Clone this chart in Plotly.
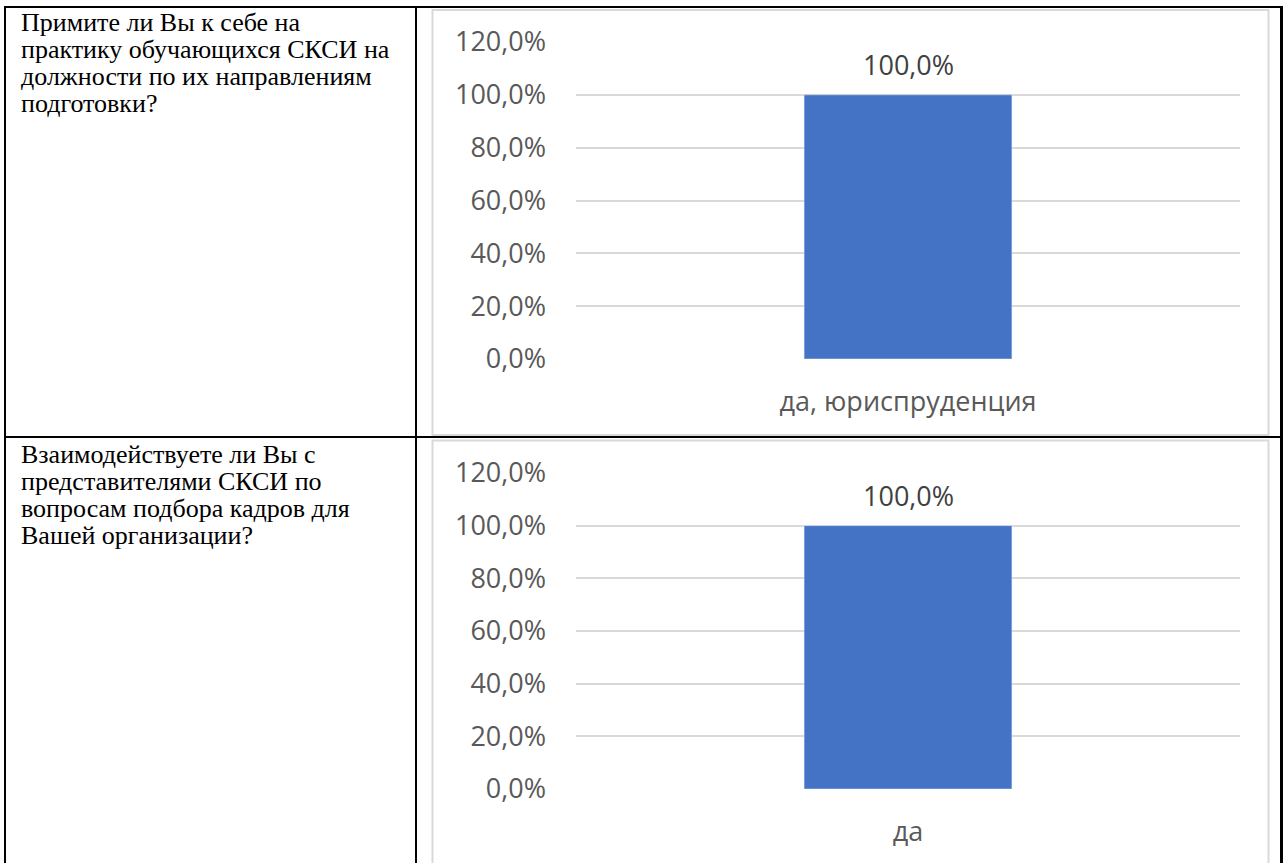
import plotly.graph_objects as go

# ---------------- data ----------------
questions_1 = ["Примите ли Вы к себе на",
               "практику обучающихся СКСИ на",
               "должности по их направлениям",
               "подготовки?"]
questions_2 = ["Взаимодействуете ли Вы с",
               "представителями СКСИ по",
               "вопросам подбора кадров для",
               "Вашей организации?"]
categories_1 = ["да, юриспруденция"]
values_1 = [100.0]
categories_2 = ["да"]
values_2 = [100.0]
tick_vals = [0, 20, 40, 60, 80, 100, 120]
tick_labels = ["0,0%", "20,0%", "40,0%", "60,0%", "80,0%", "100,0%", "120,0%"]

# ---------------- layout helpers ----------------
W, H = 1285, 863
def fx(x):
    return x / W
def fy(y):
    return 1 - y / H

BAR_COLOR = "#4472C4"
GRID = "#d9d9d9"
TICK_COLOR = "#595959"
LABEL_COLOR = "#404040"
SANS = "Open Sans"
SERIF = "Liberation Serif"

fig = go.Figure()
fig.add_trace(go.Bar(x=categories_1, y=values_1, marker_color=BAR_COLOR,
                     width=0.313, xaxis="x", yaxis="y", hoverinfo="skip"))
fig.add_trace(go.Bar(x=categories_2, y=values_2, marker_color=BAR_COLOR,
                     width=0.313, xaxis="x2", yaxis="y2", hoverinfo="skip"))

axis_x_common = dict(type="category", showgrid=False, showline=False, zeroline=False,
                     ticks="", tickfont=dict(family=SANS, size=27, color=TICK_COLOR),
                     ticklabelstandoff=24, fixedrange=True, automargin=False)
axis_y_common = dict(range=[0, 120], tickvals=tick_vals, ticktext=tick_labels,
                     showgrid=True, gridcolor=GRID, gridwidth=2, showline=False,
                     zeroline=False, ticks="",
                     tickfont=dict(family=SANS, size=27, color=TICK_COLOR),
                     ticklabelstandoff=29, fixedrange=True, automargin=False)

fig.update_layout(
    width=W, height=H,
    autosize=False,
    margin=dict(l=0, r=0, t=0, b=0, pad=0),
    paper_bgcolor="white", plot_bgcolor="white",
    showlegend=False,
    separators=", ",
    xaxis=dict(domain=[fx(576), fx(1240)], anchor="y", **axis_x_common),
    yaxis=dict(domain=[fy(359), fy(42)], anchor="x", **axis_y_common),
    xaxis2=dict(domain=[fx(576), fx(1240)], anchor="y2", **axis_x_common),
    yaxis2=dict(domain=[fy(789), fy(473)], anchor="x2", **axis_y_common),
)

annotations = []
# data labels
for cats, vals, xr, yr in [(categories_1, values_1, "x", "y"), (categories_2, values_2, "x2", "y2")]:
    for c, v in zip(cats, vals):
        annotations.append(dict(x=c, y=v, xref=xr, yref=yr, text=f"{v:.1f}%".replace(".", ","),
                                showarrow=False, yanchor="middle", yshift=30,
                                font=dict(family=SANS, size=27, color=LABEL_COLOR)))
# question texts
for lines, y0 in [(questions_1, 22), (questions_2, 454)]:
    for i, t in enumerate(lines):
        annotations.append(dict(x=fx(19), y=fy(y0 + 27 * i), xref="paper", yref="paper",
                                text=t, showarrow=False, xanchor="left", yanchor="middle",
                                font=dict(family=SERIF, size=26, color="black")))
fig.update_layout(annotations=annotations)

shapes = []
# chart panel borders
shapes.append(dict(type="rect", xref="paper", yref="paper",
                   x0=fx(432.5), x1=fx(1268.5), y0=fy(435), y1=fy(10),
                   line=dict(color=GRID, width=2)))
shapes.append(dict(type="rect", xref="paper", yref="paper",
                   x0=fx(432.5), x1=fx(1268.5), y0=fy(875), y1=fy(440.5),
                   line=dict(color=GRID, width=2)))
# table borders
black = dict(color="black", width=2)
shapes += [
    dict(type="line", xref="paper", yref="paper", x0=fx(4), x1=fx(1283), y0=fy(7), y1=fy(7), line=black),
    dict(type="line", xref="paper", yref="paper", x0=fx(5), x1=fx(5), y0=fy(6), y1=fy(870), line=black),
    dict(type="line", xref="paper", yref="paper", x0=fx(416), x1=fx(416), y0=fy(6), y1=fy(870), line=black),
    dict(type="line", xref="paper", yref="paper", x0=fx(1281.5), x1=fx(1281.5), y0=fy(6), y1=fy(870),
         line=dict(color="black", width=3)),
    dict(type="line", xref="paper", yref="paper", x0=fx(4), x1=fx(1283), y0=fy(437), y1=fy(437), line=black),
]
fig.update_layout(shapes=shapes)

fig.write_html("out.html", config={"displayModeBar": False},
               post_script="document.body.style.margin='0';document.body.style.overflow='hidden';")
